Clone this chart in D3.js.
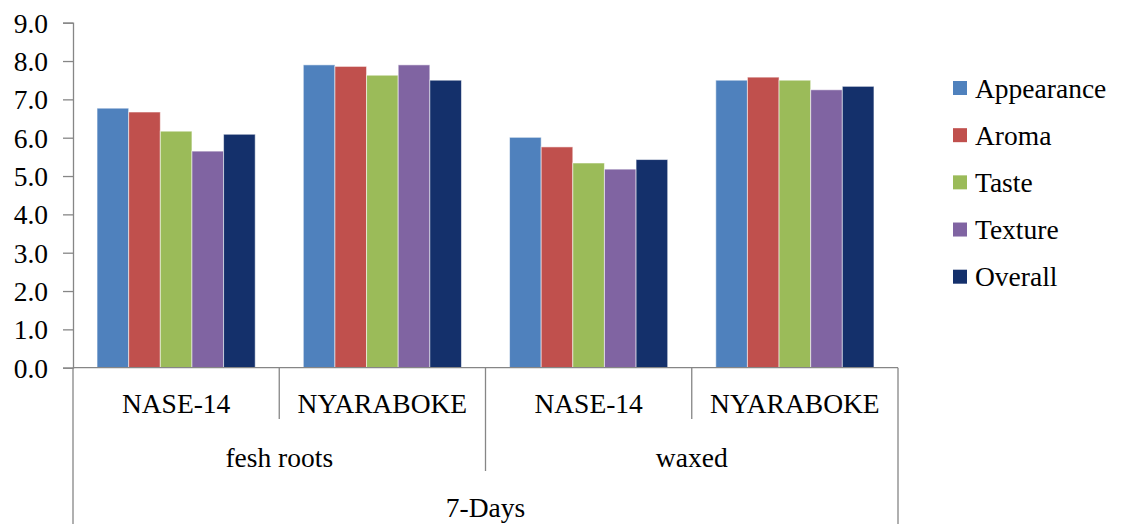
<!DOCTYPE html>
<html>
<head>
<meta charset="utf-8">
<script src="https://cdn.jsdelivr.net/npm/d3@7"></script>
<style>
  html, body { margin: 0; padding: 0; background: #fff; }
  svg { display: block; }
</style>
</head>
<body>
<svg id="chart" width="1127" height="524"></svg>
<script>
// Varieties (innermost axis level), storage treatment, and storage period
const varieties = ["NASE-14", "NYARABOKE", "NASE-14", "NYARABOKE"];
const treatments = ["fesh roots", "waxed"];
const period = "7-Days";

// Sensory attributes and their mean scores per variety/treatment column
const seriesNames = ["Appearance", "Aroma", "Taste", "Texture", "Overall"];
const appearance = [6.77, 7.90, 6.01, 7.50];
const aroma      = [6.67, 7.86, 5.76, 7.58];
const taste      = [6.17, 7.63, 5.34, 7.50];
const texture    = [5.65, 7.90, 5.18, 7.25];
const overall    = [6.09, 7.50, 5.43, 7.34];
const colors = ["#4F81BD", "#C0504D", "#9BBB59", "#8064A2", "#14306B"];

const yTicks = [0, 1, 2, 3, 4, 5, 6, 7, 8, 9];

const seriesValues = [appearance, aroma, taste, texture, overall];

const svg = d3.select("#chart");
const plotLeft = 73, plotRight = 898, plotTop = 22.7, plotBottom = 367.7;
const axisColor = "#868686";
const fontFamily = "Liberation Serif";
const fontSize = 27.5;

const y = d3.scaleLinear().domain([0, 9]).range([plotBottom, plotTop]);

const colKeys = varieties.map((v, i) => i);
const x0 = d3.scaleBand().domain(colKeys).range([plotLeft, plotRight]).padding(0);
const x1 = d3.scaleBand().domain(seriesNames).range([0, x0.bandwidth()])
  .paddingInner(0).paddingOuter(0.76);

// Bars
const rows = [];
seriesNames.forEach((s, si) => {
  colKeys.forEach(ci => rows.push({ s, si, ci, v: seriesValues[si][ci] }));
});
svg.append("g").selectAll("rect").data(rows).join("rect")
  .attr("x", d => x0(d.ci) + x1(d.s))
  .attr("y", d => y(d.v))
  .attr("width", x1.bandwidth())
  .attr("height", d => y(0) - y(d.v))
  .attr("fill", d => colors[d.si])
  .attr("stroke", "rgba(255,255,255,0.55)")
  .attr("stroke-width", 1);

// Y axis
const yAxis = d3.axisLeft(y).tickValues(yTicks).tickFormat(d3.format(".1f"))
  .tickSize(10).tickPadding(15);
const gy = svg.append("g").attr("transform", `translate(${plotLeft},0)`).call(yAxis);
gy.attr("font-family", fontFamily).attr("font-size", fontSize);
gy.select(".domain").attr("stroke", axisColor).attr("stroke-width", 1.3);
gy.selectAll(".tick line").attr("stroke", axisColor).attr("stroke-width", 1.3);
gy.selectAll(".tick text").attr("fill", "#000").attr("dy", "0.34em");

// Multi-level category axis
const gx = svg.append("g").attr("stroke", axisColor).attr("stroke-width", 1.3);
gx.append("line").attr("x1", plotLeft).attr("x2", plotRight)
  .attr("y1", plotBottom).attr("y2", plotBottom);
// Outer boundaries span all levels
[plotLeft, plotRight].forEach(px => gx.append("line")
  .attr("x1", px).attr("x2", px).attr("y1", plotBottom).attr("y2", 524));
// Divider between treatments
const mid = x0(2);
gx.append("line").attr("x1", mid).attr("x2", mid).attr("y1", plotBottom).attr("y2", 471);
// Dividers between varieties within a treatment
[x0(1), x0(3)].forEach(px => gx.append("line")
  .attr("x1", px).attr("x2", px).attr("y1", plotBottom).attr("y2", 419));

const labels = svg.append("g").attr("text-anchor", "middle")
  .attr("font-family", fontFamily).attr("font-size", fontSize).attr("fill", "#000");
varieties.forEach((v, i) => labels.append("text")
  .attr("x", x0(i) + x0.bandwidth() / 2).attr("y", 403).attr("dy", "0.35em").text(v));
treatments.forEach((t, i) => labels.append("text")
  .attr("x", x0(i * 2) + x0.bandwidth()).attr("y", 457).attr("dy", "0.35em").text(t));
labels.append("text").attr("x", (plotLeft + plotRight) / 2).attr("y", 507)
  .attr("dy", "0.35em").text(period);

// Legend
const legend = svg.append("g")
  .attr("font-family", fontFamily).attr("font-size", fontSize).attr("fill", "#000");
const legendY = d3.scalePoint().domain(seriesNames).range([88, 276.7]);
seriesNames.forEach((s, i) => {
  const g = legend.append("g").attr("transform", `translate(953,${legendY(s)})`);
  g.append("rect").attr("x", 0).attr("y", -7).attr("width", 14).attr("height", 14)
    .attr("fill", colors[i]);
  g.append("text").attr("x", 22).attr("dy", "0.35em").text(s);
});
</script>
</body>
</html>
